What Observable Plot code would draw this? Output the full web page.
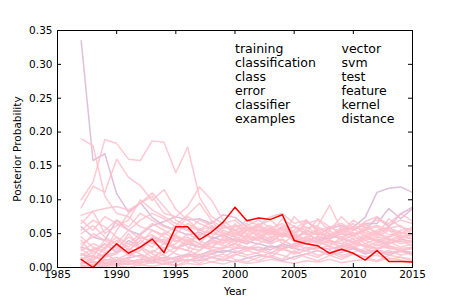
<!DOCTYPE html>
<html><head><meta charset="utf-8">
<script src="https://cdn.jsdelivr.net/npm/d3@7"></script>
<script src="https://cdn.jsdelivr.net/npm/@observablehq/plot@0.6"></script>
<style>body{margin:0;background:#fff}svg{font-family:"DejaVu Sans",sans-serif}</style>
</head><body><div id="chart"></div>
<script>
const years = [1987,1988,1989,1990,1991,1992,1993,1994,1995,1996,1997,1998,1999,2000,2001,2002,2003,2004,2005,2006,2007,2008,2009,2010,2011,2012,2013,2014,2015];
const xTicks = [1985,1990,1995,2000,2005,2010,2015];
const yTicks = [0,0.05,0.1,0.15,0.2,0.25,0.3,0.35];
const wordsLeft = ["training","classification","class","error","classifier","examples"];
const wordsRight = ["vector","svm","test","feature","kernel","distance"];
// values in thousandths
const highlight = [12,0,18,35,21,30,42,22,60,60,41,52,67,89,69,73,71,78,40,35,32,21,27,21,11,25,9,9,8];
const pinkSeries = {
P1:[190,180,105,80,75,60,55,45,38,45,35,30,28,35,25,30,22,28,20,25,18,22,15,20,16,18,12,15,10],
P2:[100,126,189,183,160,158,187,185,140,178,104,75,65,70,55,60,45,50,40,45,38,40,30,35,32,28,30,25,28],
P3:[88,120,111,160,133,121,99,115,86,70,55,60,48,55,40,45,35,42,30,38,28,32,25,30,22,26,20,24,18],
P4:[77,83,87,90,85,95,105,80,75,90,119,100,70,55,60,50,55,45,50,40,45,35,40,30,35,28,32,25,28],
P5:[65,83,50,62,70,100,85,75,65,55,45,60,50,45,55,62,48,58,45,50,42,55,40,48,35,42,38,30,35],
P6:[45,30,25,55,80,95,110,90,70,60,55,50,48,52,45,40,55,48,42,38,45,40,35,42,30,38,32,28,30],
P7:[30,50,40,28,45,35,55,48,62,78,95,70,58,62,55,65,50,72,60,55,48,50,45,52,40,45,42,38,40],
P8:[20,10,30,45,25,40,30,52,40,35,50,45,60,55,70,62,75,80,65,70,55,60,50,58,45,52,40,48,42],
P9:[10,25,15,20,35,28,15,25,45,30,25,40,35,50,42,60,55,45,75,58,62,92,55,65,48,55,60,45,50],
P10:[5,15,20,10,15,30,20,12,25,40,30,28,45,38,55,48,40,62,50,65,70,55,75,58,62,70,65,80,68],
P11:[0,5,10,15,8,12,25,18,10,20,35,25,30,42,35,45,58,50,40,55,48,60,52,70,58,62,55,50,60],
P12:[15,8,5,12,20,15,10,30,20,15,25,38,32,28,45,40,35,52,45,38,60,50,42,55,65,48,72,60,55],
P13:[25,35,28,40,30,45,38,28,35,50,40,30,42,35,48,55,62,48,55,70,52,45,60,50,55,60,48,52,45],
P14:[3,2,8,5,12,6,15,10,8,18,12,20,15,25,18,22,30,25,35,28,32,40,35,30,45,38,42,35,38],
P15:[2,5,3,8,4,10,6,12,15,8,20,15,10,18,25,20,15,28,22,30,25,20,32,38,30,28,35,40,32],
P16:[8,3,12,4,6,3,8,5,10,12,6,15,20,12,8,15,22,18,12,20,15,25,18,22,28,20,25,18,22],
P17:[40,20,35,25,50,30,22,35,28,42,35,55,65,48,58,45,52,60,45,68,58,50,55,45,60,52,58,62,48],
P18:[55,70,60,45,35,50,65,55,45,38,48,55,45,60,65,52,58,45,62,50,72,60,65,55,68,75,62,70,65],
P19:[35,45,55,70,60,80,70,60,55,75,65,58,62,55,50,62,70,55,60,48,55,45,50,42,48,40,45,50,55],
P20:[12,18,8,3,10,5,15,8,3,10,15,8,12,20,15,10,18,12,25,15,10,18,12,20,15,10,18,15,12],
P21:[28,15,42,35,22,48,35,42,30,25,58,42,35,65,48,42,55,35,48,42,38,32,45,38,42,50,45,55,58],
P22:[50,62,45,35,55,42,48,38,50,65,55,68,52,45,38,50,42,55,38,45,52,42,58,48,52,45,55,42,50],
P23:[18,28,22,32,18,25,42,35,48,38,30,35,40,30,28,35,45,40,32,42,35,38,28,35,40,32,38,45,42],
P24:[6,12,18,22,28,20,12,20,30,25,18,22,28,35,30,25,20,32,28,35,40,30,25,32,22,35,28,25,30],
P25:[70,55,75,65,55,70,80,72,60,55,70,62,55,48,62,70,58,65,52,60,50,45,52,60,55,48,58,52,48],
P26:[0,0,2,3,0,4,2,5,3,6,4,8,5,10,6,8,12,9,6,10,8,12,7,10,12,9,14,11,8]
};
const lavenderSeries = {
L1:[335,158,168,109,82,96,74,62,55,48,52,45,40,42,38,35,30,32,28,25,30,27,32,28,24,26,22,24,20],
L2:[20,15,12,10,14,18,12,10,15,20,18,25,22,28,30,25,32,28,35,40,38,45,55,60,74,111,117,119,111],
L3:[5,8,6,10,8,12,10,15,12,18,15,20,25,22,28,30,26,35,30,40,45,42,50,48,55,74,60,79,89],
L4:[30,25,35,22,40,30,45,38,28,35,30,42,48,40,35,45,38,50,42,55,48,58,62,55,65,65,87,72,87],
L5:[60,45,40,70,55,48,62,68,75,70,72,65,78,74,60,55,50,48,45,52,40,48,42,38,45,40,35,42,38],
L6:[2,4,3,6,5,8,10,5,8,12,10,15,12,8,14,18,15,10,16,20,25,18,22,28,20,24,18,25,22]
};
function rows(obj){
  const out=[];
  for (const [name, vals] of Object.entries(obj)) vals.forEach((v,i)=>out.push({series:name, year:years[i], value:v/1000}));
  return out;
}
const pinkRows = rows(pinkSeries);
const lavRows = rows(lavenderSeries);
const redRows = highlight.map((v,i)=>({year:years[i], value:v/1000}));

const W=457, H=305, mT=30, mB=38, mL=57, mR=45;
const innerH = H-mT-mB, innerW = W-mL-mR, tl = 4;
const chart = Plot.plot({
  width: W, height: H,
  marginTop: mT, marginBottom: mB, marginLeft: mL, marginRight: mR,
  style: {fontFamily: '"DejaVu Sans", sans-serif', fontSize: "10.5px", background: "#fff", color: "#000"},
  x: {domain: [1985, 2015]},
  y: {domain: [0, 0.35]},
  marks: [
    Plot.line(lavRows, {x: "year", y: "value", z: "series", stroke: "#dbb8d6", strokeWidth: 1.5, strokeOpacity: 0.9}),
    Plot.line(pinkRows, {x: "year", y: "value", z: "series", stroke: "#ffc0cb", strokeWidth: 1.5, strokeOpacity: 0.85}),
    Plot.line(redRows, {x: "year", y: "value", stroke: "#ff0000", strokeWidth: 1.5}),
    Plot.text([wordsLeft.join("\n"), wordsRight.join("\n")], {x: [2000, 2009], frameAnchor: "top", dy: 12, textAnchor: "start", lineAnchor: "top", lineHeight: 1.128, fontSize: 12.5, fill: "#000"}),
    Plot.tickX(xTicks, {x: d => d, insetTop: innerH - tl, stroke: "#000"}),
    Plot.tickX(xTicks, {x: d => d, insetBottom: innerH - tl, stroke: "#000"}),
    Plot.tickY(yTicks, {y: d => d, insetRight: innerW - tl, stroke: "#000"}),
    Plot.tickY(yTicks, {y: d => d, insetLeft: innerW - tl, stroke: "#000"}),
    Plot.frame({stroke: "#000", strokeWidth: 1}),
    Plot.axisX({ticks: xTicks, tickSize: 0, tickPadding: 3, tickFormat: d => String(d), label: "Year", labelAnchor: "center", labelArrow: "none", labelOffset: 27}),
    Plot.axisY({ticks: yTicks, tickSize: 0, tickPadding: 5, tickFormat: d3.format(".2f"), label: "Posterior Probability", labelAnchor: "center", labelArrow: "none", labelOffset: 44})
  ]
});
document.getElementById("chart").appendChild(chart);
</script>
</body></html>
